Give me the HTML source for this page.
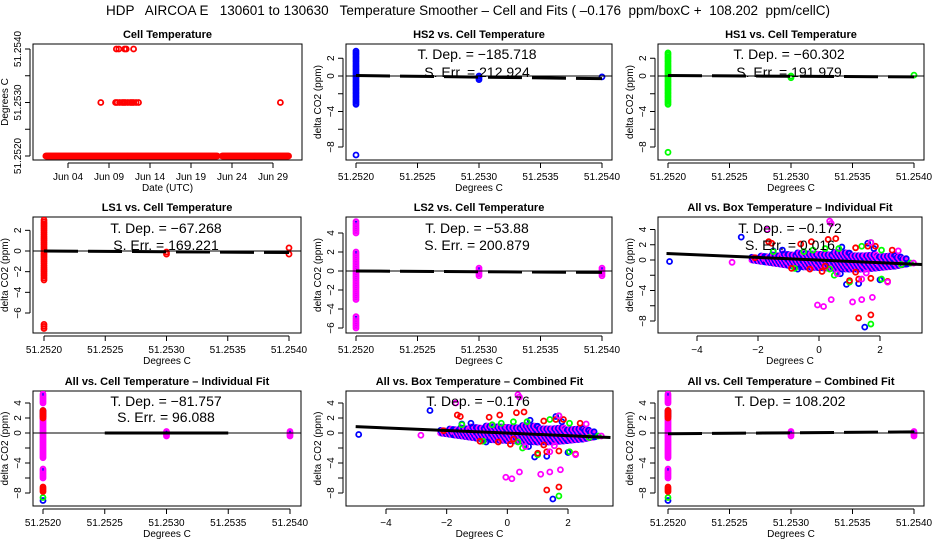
<!DOCTYPE html>
<html><head><meta charset="utf-8">
<style>
html,body{margin:0;padding:0;background:#fff;}
svg{display:block;font-family:"Liberation Sans",sans-serif;}
</style></head>
<body>
<svg id="chart" width="936" height="540" viewBox="0 0 936 540" xmlns="http://www.w3.org/2000/svg">
<text x="468" y="15" text-anchor="middle" font-size="13.5" xml:space="preserve">HDP   AIRCOA E   130601 to 130630   Temperature Smoother – Cell and Fits ( –0.176  ppm/boxC +  108.202  ppm/cellC)</text>
</svg>
<script>
// ---------- data ----------
const p1BaseRuns = [[1.3, 22.2], [22.8, 30.9]];
const p1BaseValue = 51.2520;
const p1HighDays = [8.0, 9.8, 10.0, 10.3, 10.6, 10.8, 11.0, 11.3, 11.6, 11.8, 12.0, 12.3, 12.6, 29.9];
const p1HighVals = [51.2530, 51.2530, 51.2530, 51.2530, 51.2530, 51.2530, 51.2530, 51.2530, 51.2530, 51.2530, 51.2530, 51.2530, 51.2530, 51.2530];
const p1TopDays = [9.9, 10.2, 10.9, 11.1, 12.0];
const p1TopVals = [51.2540, 51.2540, 51.2540, 51.2540, 51.2540];
const p1DateTicks = [4, 9, 14, 19, 24, 29];
const p1DateLabels = ["Jun 04", "Jun 09", "Jun 14", "Jun 19", "Jun 24", "Jun 29"];

const hs2Runs = [[51.2520, -3.2, 2.8], [51.2520, -8.9, -8.9], [51.2530, -0.4, 0.0], [51.2540, -0.1, -0.1]];
const hs1Runs = [[51.2520, -3.2, 2.6], [51.2520, -8.6, -8.6], [51.2530, -0.2, 0.0], [51.2540, 0.1, 0.1]];
const ls1Runs = [[51.2520, -2.8, 3.0], [51.2520, -7.5, -7.1], [51.2530, -0.3, 0.0], [51.2540, -0.3, -0.3], [51.2540, 0.3, 0.3]];
const ls2Runs = [[51.2520, 4.0, 5.2], [51.2520, -3.0, 2.0], [51.2520, -6.0, -4.8], [51.2530, -0.5, 0.3], [51.2540, -0.5, 0.3]];
const allCellMagenta = [[51.2520, 4.0, 5.3], [51.2520, -3.3, 2.0], [51.2520, -6.0, -4.8], [51.2530, -0.4, 0.3], [51.2540, -0.4, 0.3]];
const allCellRed = [[51.2520, 2.0, 3.1], [51.2520, -7.8, -7.1]];
const allCellGreen = [[51.2520, -8.6, -8.6]];
const allCellBlue = [[51.2520, -9.0, -9.0], [51.2520, 2.2, 3.0]];

const hs2Fit = [51.2520, 0.05, 51.2540, -0.3];
const hs1Fit = [51.2520, 0.05, 51.2540, -0.1];
const ls1Fit = [51.2520, 0.0, 51.2540, -0.15];
const ls2Fit = [51.2520, 0.0, 51.2540, -0.15];
const allCellIndFit = [51.2525, 0.0, 51.2535, 0.0];
const allCellCombFit = [51.2520, -0.1, 51.2540, 0.15];
const boxFit = [-5.0, 0.85, 3.4, -0.6];

const boxBlue = [[-4.9,-0.2],[-2.55,3.0],[1.8,1.5],[-0.7,-1.2],[0.7,-1.8],[0.9,-3.2],[1.3,-3.1],[2.0,-2.6],[1.5,-8.8],[-1.2,1.3],[0.75,1.7],[1.6,2.2],[2.9,-0.5],[-1.5,1.2]];
const boxRed = [[-1.65,2.4],[-1.55,2.2],[-0.6,2.1],[-0.25,2.4],[0.3,2.7],[0.55,2.8],[1.6,1.8],[1.85,1.8],[2.4,1.3],[-0.9,-1.1],[-0.3,-1.2],[0.1,-1.5],[1.0,-2.7],[1.3,-2.5],[1.7,-2.4],[2.25,-2.8],[1.2,-1.6],[1.3,-7.6],[1.7,-7.2],[1.2,1.6],[-2.1,0.3],[0.2,-0.8]];
const boxGreen = [[2.05,1.3],[-0.8,-1.1],[0.35,-1.2],[1.0,-2.9],[2.05,-2.5],[0.5,-2.0],[1.7,-8.4],[-1.5,1.1],[-0.2,1.3],[0.2,1.5],[0.65,1.5],[1.4,1.8],[1.7,2.3],[-0.5,1.1],[2.7,-0.6],[3.0,-0.4]];
const boxMagenta = [[-2.85,-0.3],[0.35,5.1],[0.4,4.8],[2.6,1.2],[0.6,-1.8],[1.4,-2.5],[2.25,-2.9],[1.55,-1.7],[-0.05,-5.9],[0.15,-6.1],[0.4,-5.2],[1.1,-5.5],[1.4,-5.2],[1.75,-4.9],[1.7,2.3],[-1.7,4.0],[3.1,-0.4]];
const cloudX = [-2.2, -1.5, -1.0, -0.5, 0.0, 0.5, 1.0, 1.5, 2.0, 2.5, 2.9];
const cloudHi = [0.4, 0.7, 0.9, 1.0, 1.0, 1.0, 0.9, 0.8, 0.7, 0.6, 0.2];
const cloudLo = [0.0, -0.4, -0.7, -0.9, -1.0, -1.1, -1.2, -1.2, -1.0, -0.8, -0.5];

// ---------- helpers ----------
const svg = document.getElementById('chart');
const NS = 'http://www.w3.org/2000/svg';
function mk(tag, attrs, parent) {
  const e = document.createElementNS(NS, tag);
  for (const k in attrs) e.setAttribute(k, attrs[k]);
  (parent || svg).appendChild(e);
  return e;
}
function lin(d0, d1, r0, r1) { return v => r0 + (v - d0) * (r1 - r0) / (d1 - d0); }

function panel(name, box, xs, ys, title, xTitle, yTitle, xTicks, xLabels, yTicks, yLabels) {
  const g = mk('g', {});
  
  
  const [x0, x1, y0, y1] = box;
  const t = mk('text', {x: (x0 + x1) / 2, y: y0 - 6, 'text-anchor': 'middle', 'font-size': 11, 'font-weight': 'bold'}, g);
  t.textContent = title;
  
  
  const r = mk('rect', {x: x0, y: y0, width: x1 - x0, height: y1 - y0, fill: 'none', stroke: '#000', 'stroke-width': 1}, g);
  
  
  const xa = mk('g', {}, g);
  
  
  const xp = xTicks.map(xs);
  mk('line', {x1: xp[0], x2: xp[xp.length - 1], y1: y1 + 3, y2: y1 + 3, stroke: '#000'}, xa);
  xTicks.forEach((v, i) => {
    mk('line', {x1: xs(v), x2: xs(v), y1: y1 + 3, y2: y1 + 8, stroke: '#000'}, xa);
    const l = mk('text', {x: xs(v), y: y1 + 20, 'text-anchor': 'middle', 'font-size': 10}, xa);
    l.textContent = xLabels[i];
    
    
  });
  const xt = mk('text', {x: (x0 + x1) / 2, y: y1 + 31, 'text-anchor': 'middle', 'font-size': 10}, g);
  xt.textContent = xTitle;
  
  
  const ya = mk('g', {}, g);
  
  
  const yp = yTicks.map(ys);
  mk('line', {x1: x0 - 3, x2: x0 - 3, y1: Math.min(...yp), y2: Math.max(...yp), stroke: '#000'}, ya);
  yTicks.forEach((v, i) => {
    mk('line', {x1: x0 - 8, x2: x0 - 3, y1: ys(v), y2: ys(v), stroke: '#000'}, ya);
    if (yLabels[i] !== '') {
      const px = x0 - 12, py = ys(v);
      const l = mk('text', {x: px, y: py, 'text-anchor': 'middle', 'font-size': 10, transform: `rotate(-90 ${px} ${py})`}, ya);
      l.textContent = yLabels[i];
      
      
    }
  });
  const yx = x0 - 25, yy = (y0 + y1) / 2;
  const yt = mk('text', {x: yx, y: yy, 'text-anchor': 'middle', 'font-size': 10, transform: `rotate(-90 ${yx} ${yy})`}, g);
  yt.textContent = yTitle;
  
  
  const clip = 'c' + name;
  const cp = mk('clipPath', {id: clip}, g);
  mk('rect', {x: x0, y: y0, width: x1 - x0, height: y1 - y0}, cp);
  const plot = mk('g', {'clip-path': `url(#${clip})`}, g);
  
  
  return plot;
}
function pt(g, x, y, color) {
  const c = mk('circle', {cx: x, cy: y, r: 2.5, fill: 'none', stroke: color, 'stroke-width': 1.8}, g);
  
  
}
function runs(g, xs, ys, arr, color) {
  arr.forEach(([x, lo, hi]) => {
    if (hi === lo) { pt(g, xs(x), ys(lo), color); return; }
    for (let v = lo; v <= hi + 1e-9; v += 0.2) pt(g, xs(x), ys(v), color);
  });
}
function purpleRuns(g, xs, ys, arr) {
  arr.forEach(([x, lo, hi]) => {
    for (let v = lo; v <= hi + 1e-9; v += 0.2) {
      pt(g, xs(x), ys(v), '#ff00ff');
      const d = mk('circle', {cx: xs(x), cy: ys(v), r: 0.9, fill: 'blue'}, g);
      
      
    }
  });
}
function fitLine(g, xs, ys, f, dashed) {
  const l = mk('line', {x1: xs(f[0]), y1: ys(f[1]), x2: xs(f[2]), y2: ys(f[3]), stroke: '#000', 'stroke-width': 3}, g);
  if (dashed) l.setAttribute('stroke-dasharray', '34 10');
  
  
}
function zeroLine(g, box, ys) {
  const l = mk('line', {x1: box[0], x2: box[1], y1: ys(0), y2: ys(0), stroke: '#000', 'stroke-width': 1}, g);
  
  
}
function note(cx, y, s) {
  const t = mk('text', {x: cx, y: y, 'text-anchor': 'middle', 'font-size': 14, 'xml:space': 'preserve'});
  t.textContent = s;
  
  
}

const cellTicks = [51.2520, 51.2525, 51.2530, 51.2535, 51.2540];
const cellLabels = ["51.2520", "51.2525", "51.2530", "51.2535", "51.2540"];
const boxTicks = [-4, -2, 0, 2];
const boxLabels = ["\u22124", "\u22122", "0", "2"];
const Y1 = [2, 0, -2, -4, -6, -8], Y1L = ["2", "0", "", "\u22124", "", "\u22128"];
const Y2 = [4, 2, 0, -2, -4, -6, -8], Y2L = ["4", "2", "0", "", "\u22124", "", "\u22128"];

{
  const box = [33, 302, 44, 160];
  const xs = lin(4, 29, 68, 273), ys = lin(51.2520, 51.2540, 156, 49);
  const g = panel('cell-temperature-panel', box, xs, ys, 'Cell Temperature', 'Date (UTC)', 'Degrees C',
    p1DateTicks, p1DateLabels, [51.2520, 51.2525, 51.2530, 51.2535, 51.2540], ["51.2520", "", "51.2530", "", "51.2540"]);
  p1BaseRuns.forEach(([a, b]) => { for (let d = a; d <= b + 1e-9; d += 0.1) pt(g, xs(d), ys(p1BaseValue), 'red'); });
  p1HighDays.forEach((d, i) => pt(g, xs(d), ys(p1HighVals[i]), 'red'));
  p1TopDays.forEach((d, i) => pt(g, xs(d), ys(p1TopVals[i]), 'red'));
}
{
  const box = [346, 612, 44, 160];
  const xs = lin(51.2520, 51.2540, 356, 602), ys = lin(0, -8, 76, 147);
  const g = panel('hs2-panel', box, xs, ys, 'HS2 vs. Cell Temperature', 'Degrees C', 'delta CO2 (ppm)', cellTicks, cellLabels, Y1, Y1L);
  runs(g, xs, ys, hs2Runs, 'blue');
  zeroLine(g, box, ys); fitLine(g, xs, ys, hs2Fit, true);
  note(477, 59, 'T. Dep. =  \u2212185.718'); note(477, 77, 'S. Err. =  212.924');
}
{
  const box = [658, 924, 44, 160];
  const xs = lin(51.2520, 51.2540, 668, 914), ys = lin(0, -8, 76, 147);
  const g = panel('hs1-panel', box, xs, ys, 'HS1 vs. Cell Temperature', 'Degrees C', 'delta CO2 (ppm)', cellTicks, cellLabels, Y1, Y1L);
  runs(g, xs, ys, hs1Runs, '#00ff00');
  zeroLine(g, box, ys); fitLine(g, xs, ys, hs1Fit, true);
  note(789, 59, 'T. Dep. =  \u221260.302'); note(789, 77, 'S. Err. =  191.979');
}
{
  const box = [33, 301, 217, 333];
  const xs = lin(51.2520, 51.2540, 44, 289), ys = lin(0, -6, 251, 313);
  const g = panel('ls1-panel', box, xs, ys, 'LS1 vs. Cell Temperature', 'Degrees C', 'delta CO2 (ppm)', cellTicks, cellLabels,
    [2, 0, -2, -4, -6], ["2", "0", "\u22122", "\u22124", "\u22126"]);
  runs(g, xs, ys, ls1Runs, 'red');
  zeroLine(g, box, ys); fitLine(g, xs, ys, ls1Fit, true);
  note(166, 233, 'T. Dep. =  \u221267.268'); note(166, 250, 'S. Err. =  169.221');
}
{
  const box = [346, 612, 217, 333];
  const xs = lin(51.2520, 51.2540, 356, 602), ys = lin(0, -6, 271, 328);
  const g = panel('ls2-panel', box, xs, ys, 'LS2 vs. Cell Temperature', 'Degrees C', 'delta CO2 (ppm)', cellTicks, cellLabels,
    [4, 2, 0, -2, -4, -6], ["4", "2", "0", "\u22122", "\u22124", "\u22126"]);
  purpleRuns(g, xs, ys, ls2Runs);
  zeroLine(g, box, ys); fitLine(g, xs, ys, ls2Fit, true);
  note(477, 233, 'T. Dep. =  \u221253.88'); note(477, 250, 'S. Err. =  200.879');
}
function boxScatter(g, xs, ys) {
  for (let i = 0; i < cloudX.length - 1; i++) {
    for (let x = cloudX[i]; x < cloudX[i + 1]; x += 0.06) {
      const f = (x - cloudX[i]) / (cloudX[i + 1] - cloudX[i]);
      const hi = cloudHi[i] + f * (cloudHi[i + 1] - cloudHi[i]);
      const lo = cloudLo[i] + f * (cloudLo[i + 1] - cloudLo[i]);
      let k = 0;
      for (let y = lo; y <= hi; y += 0.35) {
        pt(g, xs(x), ys(y), ((Math.round(x * 16) + k) % 2 === 0) ? 'blue' : '#ff00ff');
        k++;
      }
    }
  }
  boxBlue.forEach(([x, y]) => pt(g, xs(x), ys(y), 'blue'));
  boxGreen.forEach(([x, y]) => pt(g, xs(x), ys(y), '#00ff00'));
  boxRed.forEach(([x, y]) => pt(g, xs(x), ys(y), 'red'));
  boxMagenta.forEach(([x, y]) => pt(g, xs(x), ys(y), '#ff00ff'));
}
{
  const box = [658, 922, 217, 333];
  const xs = lin(-4, 2, 697, 880), ys = lin(0, -8, 260, 321);
  const g = panel('all-box-individual-panel', box, xs, ys, 'All vs. Box Temperature \u2013 Individual Fit', 'Degrees C', 'delta CO2 (ppm)', boxTicks, boxLabels, Y2, Y2L);
  boxScatter(g, xs, ys);
  fitLine(g, xs, ys, boxFit, false);
  note(790, 233, 'T. Dep. =  \u22120.172'); note(790, 250, 'S. Err. =  0.016');
}
{
  const box = [33, 301, 391, 506];
  const xs = lin(51.2520, 51.2540, 43, 290), ys = lin(0, -8, 433, 493);
  const g = panel('all-cell-individual-panel', box, xs, ys, 'All vs. Cell Temperature \u2013 Individual Fit', 'Degrees C', 'delta CO2 (ppm)', cellTicks, cellLabels, Y2, Y2L);
  runs(g, xs, ys, allCellBlue, 'blue');
  runs(g, xs, ys, allCellGreen, '#00ff00');
  purpleRuns(g, xs, ys, allCellMagenta);
  runs(g, xs, ys, allCellRed, 'red');
  zeroLine(g, box, ys); fitLine(g, xs, ys, allCellIndFit, false);
  note(166, 406, 'T. Dep. =  \u221281.757'); note(166, 422, 'S. Err. =  96.088');
}
{
  const box = [346, 613, 391, 506];
  const xs = lin(-4, 2, 386, 568), ys = lin(0, -8, 433, 493);
  const g = panel('all-box-combined-panel', box, xs, ys, 'All vs. Box Temperature \u2013 Combined Fit', 'Degrees C', 'delta CO2 (ppm)', boxTicks, boxLabels, Y2, Y2L);
  boxScatter(g, xs, ys);
  fitLine(g, xs, ys, boxFit, false);
  note(478, 406, 'T. Dep. =  \u22120.176');
}
{
  const box = [658, 924, 391, 506];
  const xs = lin(51.2520, 51.2540, 668, 914), ys = lin(0, -8, 433, 493);
  const g = panel('all-cell-combined-panel', box, xs, ys, 'All vs. Cell Temperature \u2013 Combined Fit', 'Degrees C', 'delta CO2 (ppm)', cellTicks, cellLabels, Y2, Y2L);
  runs(g, xs, ys, allCellBlue, 'blue');
  runs(g, xs, ys, allCellGreen, '#00ff00');
  purpleRuns(g, xs, ys, allCellMagenta);
  runs(g, xs, ys, allCellRed, 'red');
  zeroLine(g, box, ys); fitLine(g, xs, ys, allCellCombFit, true);
  note(790, 406, 'T. Dep. =  108.202');
}
</script>
</body></html>
